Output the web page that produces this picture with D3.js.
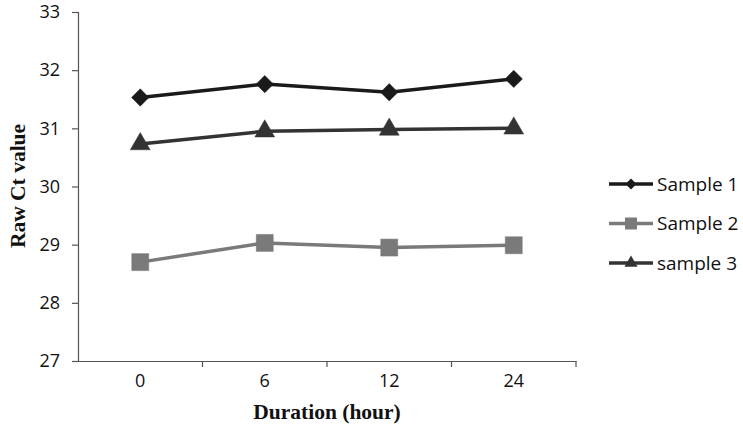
<!DOCTYPE html>
<html><head><meta charset="utf-8">
<script src="https://cdn.jsdelivr.net/npm/d3@7"></script>
<style>body{margin:0;background:#fff}</style>
</head><body>
<svg id="c" width="743" height="434"></svg>
<script>
const categories = ["0", "6", "12", "24"];
const sample1 = [31.53, 31.76, 31.62, 31.85];
const sample2 = [28.70, 29.03, 28.95, 28.99];
const sample3 = [30.73, 30.95, 30.98, 31.00];
const yTicks = [27, 28, 29, 30, 31, 32, 33];
const seriesNames = ["Sample 1", "Sample 2", "sample 3"];

(function () {
const series = [
  {name: seriesNames[0], values: sample1, color: "#1a1a1a", symbol: d3.symbolSquare, size: 150, rot: 45, lsize: 60},
  {name: seriesNames[1], values: sample2, color: "#7a7a7a", symbol: d3.symbolSquare, size: 289, rot: 0, lsize: 144},
  {name: seriesNames[2], values: sample3, color: "#333333", symbol: d3.symbolTriangle, size: 170, rot: 0, lsize: 75}
];

const svg = d3.select("#c");
const mLeft = 78, mRight = 576, mTop = 12, mBottom = 361;
const x = d3.scaleBand().domain(categories).range([mLeft, mRight]);
const y = d3.scaleLinear().domain([27, 33]).range([mBottom, mTop]);

const tickFont = "'Open Sans', sans-serif";

const yAx = svg.append("g").attr("transform", `translate(${mLeft},0)`)
  .call(d3.axisLeft(y).tickValues(yTicks).tickSize(6).tickPadding(12).tickFormat(d3.format("d")));
yAx.select(".domain").attr("stroke", "#555").attr("stroke-width", 1.2);
yAx.selectAll(".tick line").attr("stroke", "#555").attr("stroke-width", 1.2);
yAx.selectAll("text").attr("font-family", tickFont).attr("font-size", 18).attr("fill", "#111");

const xAx = svg.append("g").attr("transform", `translate(0,${mBottom})`)
  .call(d3.axisBottom(x).tickSize(0).tickPadding(13));
xAx.select(".domain").attr("stroke", "#555").attr("stroke-width", 1.2);
xAx.selectAll("text").attr("font-family", tickFont).attr("font-size", 18).attr("fill", "#111");
svg.append("g").selectAll("line").data(categories).join("line")
  .attr("x1", c => x(c) + x.bandwidth()).attr("x2", c => x(c) + x.bandwidth())
  .attr("y1", mBottom).attr("y2", mBottom + 6)
  .attr("stroke", "#555").attr("stroke-width", 1.2);

svg.append("text").attr("x", (mLeft + mRight) / 2).attr("y", 419)
  .attr("text-anchor", "middle").attr("font-family", "'Liberation Serif', 'Times New Roman', serif")
  .attr("font-weight", "bold").attr("font-size", 21.5).attr("fill", "#111").text("Duration (hour)");
svg.append("text").attr("transform", `translate(25,186) rotate(-90)`)
  .attr("text-anchor", "middle").attr("font-family", "'Liberation Serif', 'Times New Roman', serif")
  .attr("font-weight", "bold").attr("font-size", 21.5).attr("fill", "#111").text("Raw Ct value");

const cx = c => x(c) + x.bandwidth() / 2;
const line = d3.line().x((d, i) => cx(categories[i])).y(d => y(d));
series.forEach(s => {
  svg.append("path").datum(s.values).attr("d", line)
    .attr("fill", "none").attr("stroke", s.color).attr("stroke-width", 3.5);
  svg.append("g").selectAll("path").data(s.values).join("path")
    .attr("transform", (d, i) => `translate(${cx(categories[i])},${y(d)}) rotate(${s.rot})`)
    .attr("d", d3.symbol().type(s.symbol).size(s.size))
    .attr("fill", s.color).attr("stroke", s.color).attr("stroke-width", 0.5);
});

const legY = d3.scalePoint().domain(seriesNames).range([184, 263]);
series.forEach(s => {
  const ly = legY(s.name);
  svg.append("line").attr("x1", 609).attr("x2", 653).attr("y1", ly).attr("y2", ly)
    .attr("stroke", s.color).attr("stroke-width", 3.5);
  svg.append("path").attr("transform", `translate(631,${ly}) rotate(${s.rot})`)
    .attr("d", d3.symbol().type(s.symbol).size(s.lsize))
    .attr("fill", s.color);
  svg.append("text").attr("x", 657).attr("y", ly).attr("dy", "0.35em")
    .attr("font-family", tickFont).attr("font-size", 19).attr("fill", "#111").text(s.name);
});
})();
</script>
</body></html>
